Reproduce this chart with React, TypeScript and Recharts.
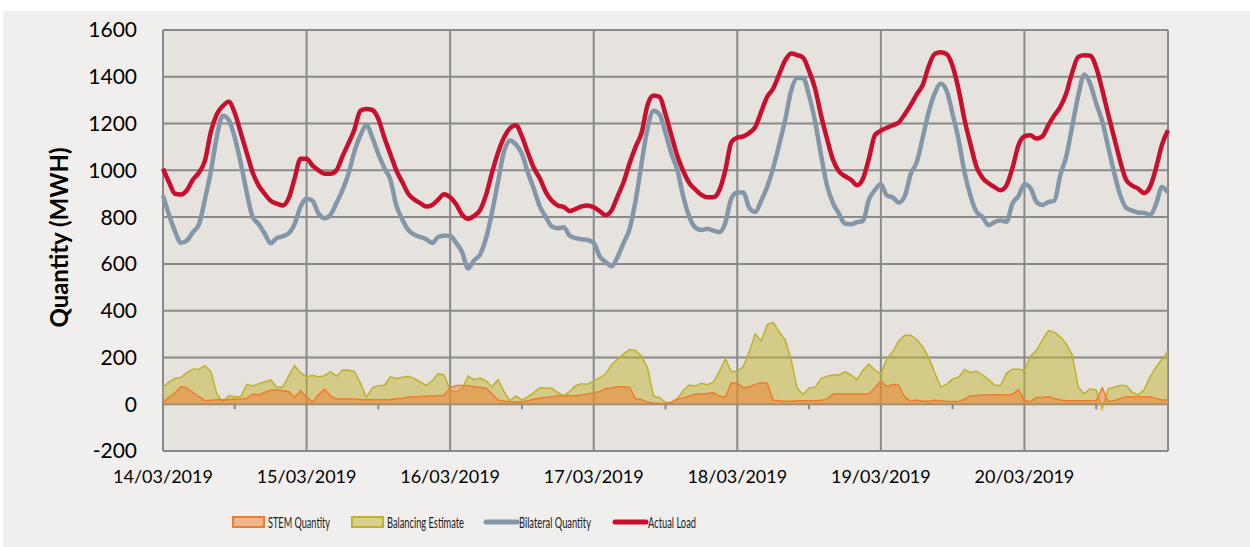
import {
  Area,
  CartesianGrid,
  ComposedChart,
  Label,
  Legend,
  Line,
  ReferenceLine,
  XAxis,
  YAxis,
} from "recharts";

// hourly readings, 14/03/2019 00:00 to 21/03/2019 00:00
const dayLabels = [
  "14/03/2019",
  "15/03/2019",
  "16/03/2019",
  "17/03/2019",
  "18/03/2019",
  "19/03/2019",
  "20/03/2019",
];
const dayTicks = [0, 24, 48, 72, 96, 120, 144, 168];
const middayTicks = [12, 36, 60, 84, 108, 132, 156];
const yTicks = [-200, 0, 200, 400, 600, 800, 1000, 1200, 1400, 1600];

const actualLoad = [
  1007, 950, 900, 897, 915, 960, 990, 1040, 1165, 1240, 1275, 1293, 1245, 1160, 1075, 990, 935, 900, 870, 858, 850, 880, 965, 1050,
  1050, 1020, 1000, 985, 985, 1000, 1060, 1115, 1175, 1255, 1262, 1258, 1220, 1140, 1070, 1000, 950, 900, 875, 860, 845, 852, 875, 898,
  885, 855, 810, 793, 805, 830, 895, 990, 1075, 1140, 1180, 1193, 1145, 1075, 1010, 965, 907, 870, 850, 843, 826, 835, 846, 850,
  842, 826, 808, 830, 890, 950, 1030, 1100, 1160, 1280, 1320, 1314, 1240, 1148, 1060, 995, 945, 918, 895, 885, 885, 915, 1000, 1120,
  1140, 1145, 1160, 1185, 1250, 1315, 1350, 1410, 1470, 1500, 1493, 1482, 1425, 1350, 1235, 1135, 1045, 995, 975, 960, 936, 964, 1050, 1150,
  1170, 1182, 1193, 1205, 1240, 1280, 1325, 1365, 1445, 1498, 1505, 1497, 1445, 1345, 1215, 1110, 1014, 968, 945, 928, 915, 936, 1010, 1107,
  1145, 1150, 1136, 1145, 1193, 1235, 1272, 1330, 1420, 1485, 1492, 1490, 1440, 1345, 1240, 1140, 1040, 960, 935, 922, 903, 930, 1010, 1110,
  1171,
];

const bilateralQuantity = [
  893, 810, 740, 690, 700, 736, 768, 875, 995, 1145, 1233, 1215, 1140, 1030, 905, 800, 770, 729, 688, 710, 718, 730, 770, 845,
  880, 870, 815, 795, 810, 860, 915, 985, 1080, 1150, 1193, 1140, 1070, 1010, 960, 850, 790, 745, 725, 715, 705, 690, 715, 720,
  720, 690, 650, 580, 615, 640, 710, 820, 950, 1080, 1128, 1110, 1070, 990, 920, 845, 800, 760, 752, 757, 720, 710, 705, 702,
  690, 632, 608, 590, 630, 690, 750, 870, 1030, 1180, 1255, 1240, 1160, 1070, 1000, 885, 800, 755, 745, 750, 742, 736, 775, 880,
  905, 905, 840, 822, 870, 930, 1010, 1110, 1215, 1340, 1395, 1395, 1320, 1210, 1065, 935, 860, 815, 772, 770, 778, 784, 875, 915,
  940, 893, 884, 862, 890, 985, 1035, 1140, 1250, 1329, 1370, 1340, 1240, 1130, 990, 890, 822, 800, 765, 779, 785, 780, 858, 890,
  940, 925, 865, 852, 864, 870, 980, 1060, 1190, 1320, 1410, 1370, 1285, 1210, 1100, 990, 895, 840, 828, 820, 818, 810, 855, 929,
  905,
];

const balancingEstimate = [
  73, 95, 110, 115, 135, 150, 150, 165, 140, 45, 10, 36, 32, 32, 85, 78, 88, 95, 105, 73, 73, 120, 165, 135,
  117, 124, 117, 122, 139, 120, 146, 145, 140, 90, 29, 70, 80, 80, 117, 110, 115, 120, 110, 95, 80, 100, 131, 125,
  60, 52, 65, 120, 105, 112, 100, 75, 105, 55, 15, 35, 18, 32, 50, 70, 68, 68, 50, 36, 55, 80, 88, 85,
  100, 112, 130, 170, 193, 215, 234, 230, 205, 155, 35, 28, 7, 7, 25, 60, 82, 78, 90, 83, 95, 140, 195, 140,
  140, 161, 225, 300, 270, 340, 350, 310, 275, 190, 70, 42, 70, 73, 110, 120, 125, 125, 139, 125, 105, 145, 172, 145,
  131, 195, 226, 270, 295, 295, 277, 245, 200, 135, 75, 85, 108, 115, 148, 135, 142, 125, 105, 82, 80, 132, 150, 150,
  145, 205, 230, 275, 315, 308, 288, 258, 210, 73, 45, 66, 61, -20, 66, 73, 80, 80, 52, 40, 62, 117, 158, 192,
  226,
];

const stemQuantity = [
  7, 30, 47, 75, 70, 51, 33, 15, 17, 19, 19, 20, 21, 22, 25, 44, 40, 50, 60, 62, 58, 55, 29, 58,
  30, 10, 40, 65, 35, 22, 22, 22, 22, 20, 19, 19, 19, 19, 20, 23, 26, 30, 32, 33, 34, 35, 36, 38,
  70, 80, 80, 79, 76, 73, 68, 45, 18, 13, 11, 10, 10, 15, 22, 26, 29, 32, 36, 36, 36, 36, 40, 44,
  48, 55, 66, 70, 75, 75, 73, 22, 20, 8, 5, 3, 3, 8, 22, 26, 35, 44, 44, 46, 50, 35, 30, 92,
  90, 70, 75, 85, 92, 90, 17, 15, 13, 13, 15, 15, 15, 15, 17, 22, 44, 44, 44, 44, 44, 44, 44, 70,
  99, 76, 85, 80, 30, 13, 18, 13, 13, 17, 15, 12, 12, 12, 22, 36, 37, 39, 39, 40, 41, 41, 42, 62,
  16, 12, 29, 30, 32, 25, 18, 15, 15, 15, 15, 15, 15, 70, 12, 15, 25, 32, 32, 32, 32, 32, 25, 18,
  18,
];

const rows = actualLoad.map((load, i) => ({
  t: i,
  stem: stemQuantity[i],
  balancing: balancingEstimate[i],
  bilateral: bilateralQuantity[i],
  actual: load,
}));

const FONT = "Lato, 'Open Sans', sans-serif";
const GRID = "#8a8a8a";

const legendItems = [
  { label: "STEM Quantity", kind: "area", fill: "#ED7D31", stroke: "#ED7D31", x: 230, textWidth: 62 },
  { label: "Balancing Estimate", kind: "area", fill: "#C0B430", stroke: "#BFB12E", x: 349, textWidth: 77 },
  { label: "Bilateral Quantity", kind: "line", fill: "none", stroke: "#8497A8", x: 481, textWidth: 72 },
  { label: "Actual Load", kind: "line", fill: "none", stroke: "#C8102E", x: 610, textWidth: 48 },
];

function renderLegend() {
  return (
    <svg width={1247} height={30} style={{ display: "block" }}>
      {legendItems.map((item) => (
        <g key={item.label}>
          {item.kind === "area" ? (
            <rect
              x={item.x}
              y={10}
              width={31}
              height={10}
              fill={item.fill}
              fillOpacity={0.5}
              stroke={item.stroke}
              strokeWidth={2}
            />
          ) : (
            <line
              x1={item.x + 2}
              x2={item.x + 33}
              y1={15}
              y2={15}
              stroke={item.stroke}
              strokeWidth={5}
              strokeLinecap="round"
            />
          )}
          <text
            x={item.x + 35}
            y={20.5}
            fontFamily={FONT}
            fontSize={14.5}
            fill="#1a1a1a"
            textLength={item.textWidth}
            lengthAdjust="spacingAndGlyphs"
          >
            {item.label}
          </text>
        </g>
      ))}
    </svg>
  );
}

function YAxisTitle(props: any) {
  const { viewBox } = props;
  const cx = viewBox.x + 65;
  const cy = viewBox.y + viewBox.height / 2 - 3;
  return (
    <text
      x={cx}
      y={cy}
      transform={`rotate(-90 ${cx} ${cy})`}
      textAnchor="middle"
      fontFamily={FONT}
      fontWeight={700}
      fontSize={24}
      fill="#000"
    >
      Quantity (MWH)
    </text>
  );
}

export default function App() {
  return (
    <div
      style={{
        position: "absolute",
        left: 3,
        top: 11,
        width: 1247,
        height: 536,
        background: "#F0EFED",
      }}
    >
      <ComposedChart
        width={1247}
        height={536}
        data={rows}
        margin={{ top: 19, right: 82, bottom: 56, left: 0 }}
      >
        <CartesianGrid stroke={GRID} strokeWidth={2} fill="#E6E3DF" fillOpacity={1} />
        <XAxis
          dataKey="t"
          type="number"
          domain={[0, 168]}
          ticks={dayTicks}
          interval={0}
          height={40}
          axisLine={false}
          tickLine={false}
          tickSize={6}
          tickMargin={13}
          tick={{ fill: "#000", fontSize: 18, fontFamily: FONT }}
          tickFormatter={(t: number) => dayLabels[t / 24] ?? ""}
        />
        <YAxis
          type="number"
          domain={[-200, 1600]}
          ticks={yTicks}
          interval={0}
          width={160}
          axisLine={false}
          tickLine={false}
          tickSize={6}
          tickMargin={20}
          tick={{ fill: "#000", fontSize: 21, fontFamily: FONT }}
        >
          <Label content={YAxisTitle} />
        </YAxis>
        <Area
          type="linear"
          dataKey="balancing"
          name="Balancing Estimate"
          fill="#C0B430"
          fillOpacity={0.5}
          stroke="#BFB12E"
          strokeWidth={1.5}
          dot={false}
          activeDot={false}
          isAnimationActive={false}
        />
        <Area
          type="linear"
          dataKey="stem"
          name="STEM Quantity"
          fill="#ED7D31"
          fillOpacity={0.5}
          stroke="#ED7D31"
          strokeWidth={1.5}
          dot={false}
          activeDot={false}
          isAnimationActive={false}
        />
        <Line
          type="monotone"
          dataKey="bilateral"
          name="Bilateral Quantity"
          stroke="#8497A8"
          strokeWidth={4.5}
          strokeLinejoin="round"
          dot={false}
          activeDot={false}
          isAnimationActive={false}
        />
        <Line
          type="monotone"
          dataKey="actual"
          name="Actual Load"
          stroke="#C8102E"
          strokeWidth={4.5}
          strokeLinejoin="round"
          dot={false}
          activeDot={false}
          isAnimationActive={false}
        />
        {middayTicks.map((t) => (
          <ReferenceLine
            key={t}
            segment={[
              { x: t, y: 0 },
              { x: t, y: -22 },
            ]}
            stroke={GRID}
            strokeWidth={2}
            ifOverflow="visible"
          />
        ))}
        <Legend
          layout="horizontal"
          verticalAlign="middle"
          align="center"
          content={renderLegend}
          wrapperStyle={{ top: 496, left: 0, width: 1247, height: 30 }}
        />
      </ComposedChart>
    </div>
  );
}
